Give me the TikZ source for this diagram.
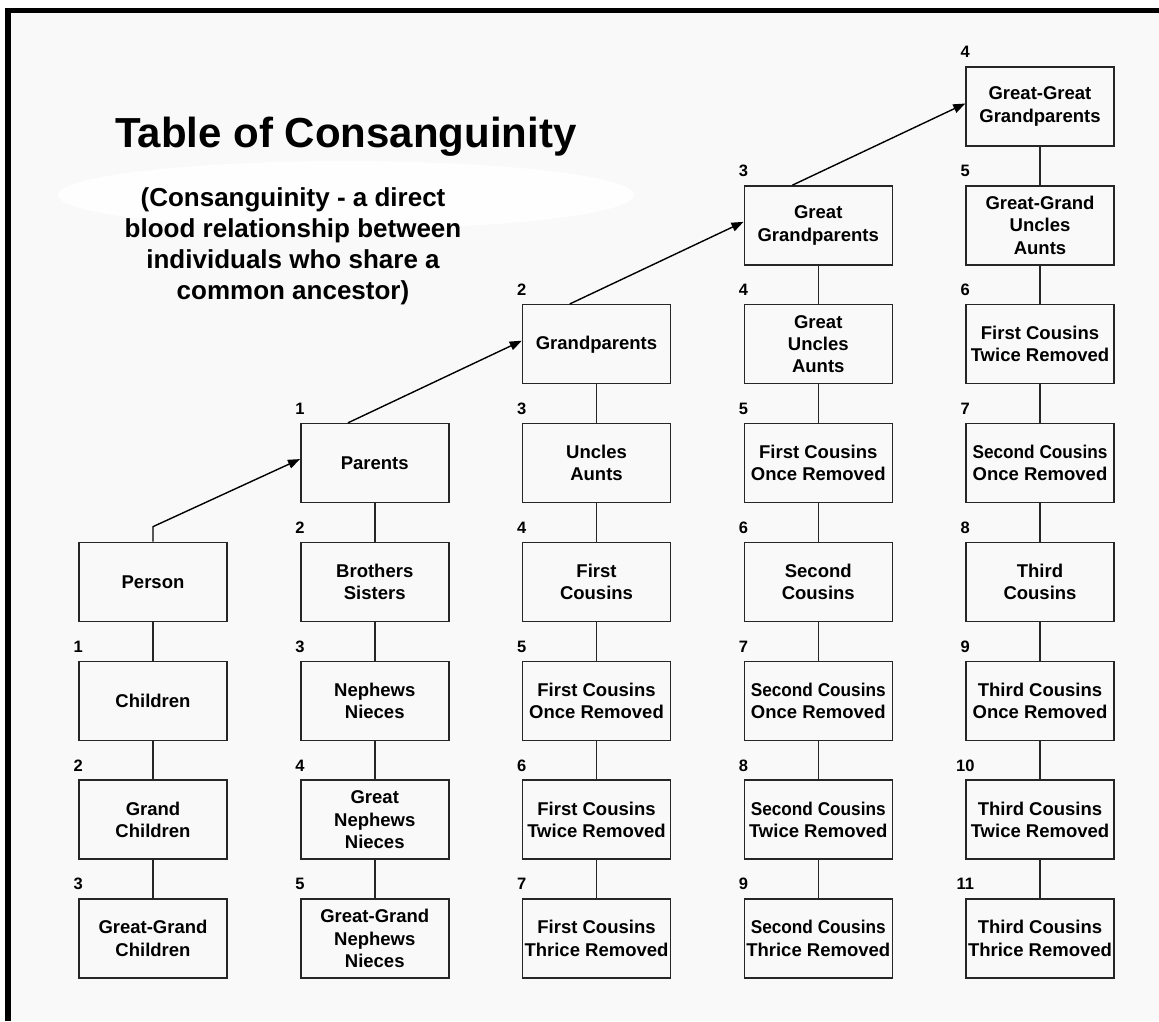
\documentclass[tikz,border=0pt]{standalone}
\usepackage{fontspec}
\usepackage{graphicx}
\setmainfont{Liberation Sans}
\usetikzlibrary{arrows.meta,calc}
\definecolor{bgcol}{RGB}{249,249,249}
\definecolor{glow}{RGB}{254,254,254}
\definecolor{linecol}{RGB}{38,38,38}
\newcommand{\sqz}[1]{\scalebox{0.93}[1]{#1}}
\tikzset{
  box/.style={draw=linecol, line width=1.5pt, rectangle, minimum width=148pt,
    minimum height=79pt, inner sep=0pt, align=center,
    font=\fontsize{18.5}{22.3}\selectfont\bfseries},
  lbl/.style={inner sep=0pt, font=\fontsize{16.5}{18}\selectfont\bfseries},
  conn/.style={draw=linecol, line width=1.5pt},
  arr/.style={draw=black, line width=1.4pt, -{Triangle[length=12pt,width=9pt]}},
}
\newcommand{\cbox}[5]{%
  \node[box] (#1) at ({153+221.75*#2},{106.5+118.86*#3}) {#4};
  \node[lbl] (#1-n) at ([yshift=14pt]#1.north west) {#5};}
\begin{document}
\begin{tikzpicture}[x=1pt,y=-1pt]
\useasboundingbox (0,0) rectangle (1159,1021);
\fill[white] (0,0) rectangle (1159,1021);
\fill[bgcol] (7.75,10.7) rectangle (1159,1021);
\fill[glow] (346,195) ellipse [x radius=288, y radius=34];
\draw[line width=5.5pt] (7.75,1021) -- (7.75,10.7) -- (1159,10.7);

\node[anchor=base west, inner sep=0pt, font=\fontsize{42}{48}\selectfont\bfseries] (title) at (115,147) {Table of Consanguinity};
\node[anchor=north, inner sep=0pt, align=center, font=\fontsize{26}{31}\selectfont\bfseries] (sub) at (293,187)
  {(Consanguinity - a direct\\blood relationship between\\individuals who share a\\common ancestor)};

% column 0
\node[box] (person) at (153,581.9) {Person};
\cbox{children}{0}{5}{Children}{1}
\cbox{grandch}{0}{6}{Grand\\Children}{2}
\cbox{ggch}{0}{7}{Great-Grand\\Children}{3}
% column 1
\cbox{parents}{1}{3}{Parents}{1}
\cbox{siblings}{1}{4}{Brothers\\Sisters}{2}
\cbox{nephews}{1}{5}{Nephews\\Nieces}{3}
\cbox{gnephews}{1}{6}{Great\\Nephews\\Nieces}{4}
\cbox{ggnephews}{1}{7}{Great-Grand\\Nephews\\Nieces}{5}
% column 2
\cbox{gp}{2}{2}{Grandparents}{2}
\cbox{uncles}{2}{3}{Uncles\\Aunts}{3}
\cbox{fc}{2}{4}{First\\Cousins}{4}
\cbox{fcone}{2}{5}{First Cousins\\Once Removed}{5}
\cbox{fctwo}{2}{6}{First Cousins\\Twice Removed}{6}
\cbox{fcthree}{2}{7}{First Cousins\\Thrice Removed}{7}
% column 3
\cbox{ggp}{3}{1}{Great\\Grandparents}{3}
\cbox{guncles}{3}{2}{Great\\Uncles\\Aunts}{4}
\cbox{fconeb}{3}{3}{First Cousins\\Once Removed}{5}
\cbox{sc}{3}{4}{Second\\Cousins}{6}
\cbox{scone}{3}{5}{\sqz{Second Cousins}\\Once Removed}{7}
\cbox{sctwo}{3}{6}{\sqz{Second Cousins}\\Twice Removed}{8}
\cbox{scthree}{3}{7}{\sqz{Second Cousins}\\Thrice Removed}{9}
% column 4
\cbox{gggp}{4}{0}{Great-Great\\Grandparents}{4}
\cbox{gguncles}{4}{1}{Great-Grand\\Uncles\\Aunts}{5}
\cbox{fctwob}{4}{2}{First Cousins\\Twice Removed}{6}
\cbox{sconeb}{4}{3}{\sqz{Second Cousins}\\Once Removed}{7}
\cbox{tc}{4}{4}{Third\\Cousins}{8}
\cbox{tcone}{4}{5}{Third Cousins\\Once Removed}{9}
\cbox{tctwo}{4}{6}{Third Cousins\\Twice Removed}{10}
\cbox{tcthree}{4}{7}{Third Cousins\\Thrice Removed}{11}

% vertical connectors
\foreach \a/\b in {person/children, children/grandch, grandch/ggch,
  parents/siblings, siblings/nephews, nephews/gnephews, gnephews/ggnephews,
  gp/uncles, uncles/fc, fc/fcone, fcone/fctwo, fctwo/fcthree,
  ggp/guncles, guncles/fconeb, fconeb/sc, sc/scone, scone/sctwo, sctwo/scthree,
  gggp/gguncles, gguncles/fctwob, fctwob/sconeb, sconeb/tc, tc/tcone, tcone/tctwo, tctwo/tcthree}
  \draw[conn] (\a.south) -- (\b.north);

% ascending arrows
\draw[arr] (person.north) -- ++(0,-15) -- ([yshift=4pt]parents.west);
\draw[arr] ([xshift=48pt]parents.north west) -- ([yshift=3.5pt]gp.west);
\draw[arr] ([xshift=48pt]gp.north west) -- ([yshift=3.5pt]ggp.west);
\draw[arr] ([xshift=49pt]ggp.north west) -- ([yshift=3pt]gggp.west);
\end{tikzpicture}
\end{document}
